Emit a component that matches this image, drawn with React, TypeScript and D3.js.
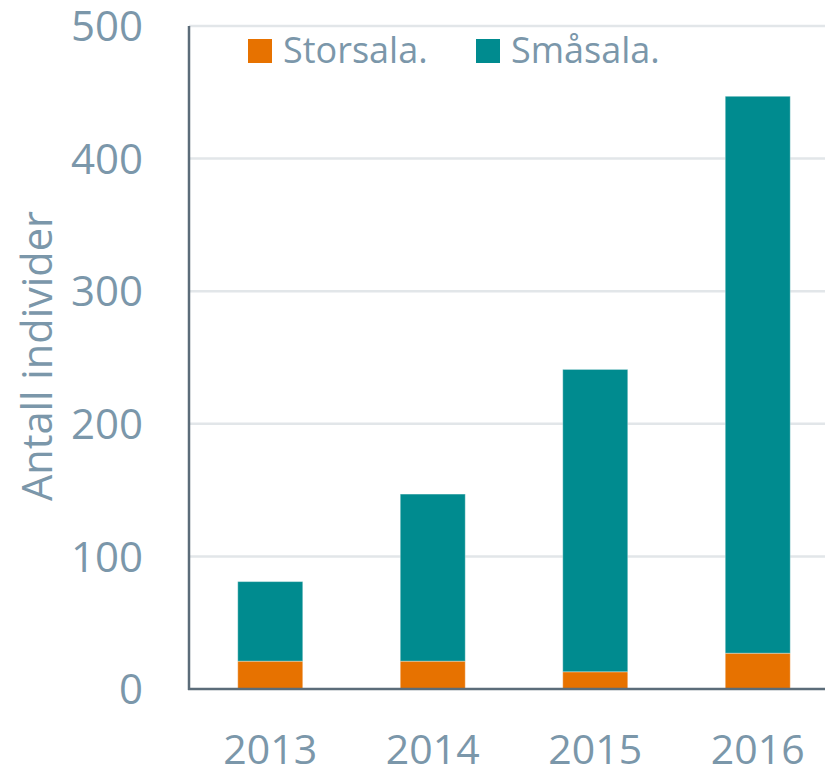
import React from "react";
import * as d3 from "d3";

const years = ["2013", "2014", "2015", "2016"];
const storsala = [21, 21, 13, 27];
const smasala = [60, 126, 228, 420];
const yTicks = [0, 100, 200, 300, 400, 500];
const seriesNames = ["Storsala.", "Småsala."];
const seriesColors = ["#E77200", "#008B8F"];

const W = 825;
const H = 770;
const FONT = "'Open Sans', sans-serif";
const TEXT = "#7B97AA";

export default function App() {
  const x = d3
    .scaleBand<string>()
    .domain(years)
    .range([189, 839])
    .paddingInner(0.6)
    .paddingOuter(0.3);
  const y = d3.scaleLinear().domain([0, 500]).range([689, 26]);

  const rows = years.map((yr, i) => ({ year: yr, s: storsala[i], m: smasala[i] }));
  const stack = d3.stack<any>().keys(["s", "m"])(rows);

  return (
    <svg width={W} height={H} style={{ position: "absolute", left: 0, top: 0, background: "#fff" }}>
      {yTicks.slice(1).map((t) => (
        <line key={t} x1={189} x2={W} y1={y(t)} y2={y(t)} stroke="#E2E6E9" strokeWidth={2.5} />
      ))}
      {stack.map((layer, li) =>
        layer.map((d, i) => (
          <rect
            key={li + "-" + i}
            x={x(years[i])}
            width={x.bandwidth()}
            y={y(d[1])}
            height={y(d[0]) - y(d[1])}
            fill={seriesColors[li]}
            stroke="#ffffff"
            strokeOpacity={0.35}
            strokeWidth={1}
          />
        ))
      )}
      <line x1={189} x2={189} y1={26} y2={690} stroke="#5B6C79" strokeWidth={2.5} />
      <line x1={188} x2={W} y1={689} y2={689} stroke="#5B6C79" strokeWidth={2.5} />
      {yTicks.map((t) => (
        <text
          key={t}
          x={143}
          y={y(t)}
          dy="0.36em"
          textAnchor="end"
          fontFamily={FONT}
          fontSize={42}
          fill={TEXT}
        >
          {t}
        </text>
      ))}
      {years.map((yr) => (
        <text
          key={yr}
          x={(x(yr) as number) + x.bandwidth() / 2}
          y={764}
          textAnchor="middle"
          fontFamily={FONT}
          fontSize={41}
          fill={TEXT}
        >
          {yr}
        </text>
      ))}
      <text
        transform={`translate(52,356) rotate(-90)`}
        textAnchor="middle"
        fontFamily={FONT}
        fontSize={41.5}
        fill={TEXT}
      >
        Antall individer
      </text>
      {seriesNames.map((n, i) => {
        const lx = i === 0 ? 248 : 476;
        return (
          <g key={n}>
            <rect x={lx} y={39} width={24} height={24} fill={seriesColors[i]} />
            <text x={lx + 35} y={63} fontFamily={FONT} fontSize={36} fill={TEXT}>
              {n}
            </text>
          </g>
        );
      })}
    </svg>
  );
}
